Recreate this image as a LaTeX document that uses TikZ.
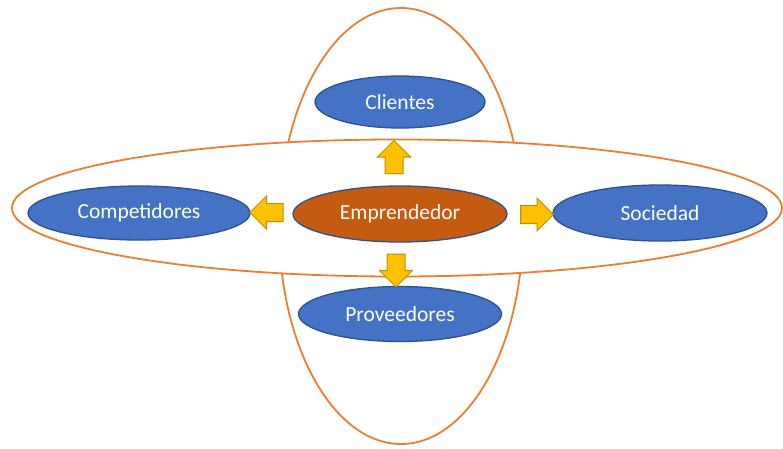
\documentclass[tikz,border=0pt]{standalone}
\usepackage{fontspec}
\setmainfont{Carlito}
\usetikzlibrary{shapes.geometric,shapes.arrows}
\definecolor{ringorange}{HTML}{ED7D31}
\definecolor{nodeblue}{HTML}{4472C4}
\definecolor{nodeedge}{HTML}{2F528F}
\definecolor{coreorange}{HTML}{C55A11}
\definecolor{arrowfill}{HTML}{FFC000}
\definecolor{arrowedge}{HTML}{BF9000}
\tikzset{
  ring/.style={ellipse, draw=ringorange, line width=1.8pt, fill=white, inner sep=0pt},
  actor/.style={ellipse, draw=nodeedge, line width=1.3pt, fill=nodeblue, inner sep=0pt,
    text=white, font=\fontsize{21.5}{25}\selectfont},
  core/.style={actor, fill=coreorange},
  blockarrow/.style={single arrow, draw=arrowedge, line width=1pt, fill=arrowfill,
    inner xsep=0pt, inner ysep=8.5pt, minimum width=32pt, minimum height=33pt,
    single arrow head extend=7.5pt, single arrow tip angle=90}
}
\begin{document}
\begin{tikzpicture}[x=1pt,y=-1pt]
  \useasboundingbox (0,0) rectangle (783,448);
  % outer rings: vertical first, the horizontal one covers it
  \node[ring, minimum width=244pt, minimum height=436pt] (vring) at (401,226) {};
  \node[ring, minimum width=770pt, minimum height=137pt] (hring) at (397,208) {};
  % actors
  \node[core, minimum width=214pt, minimum height=56pt] (emp) at (400,214) {Emprendedor};
  \node[actor, minimum width=170pt, minimum height=52pt] (cli) at (400,102) {Clientes};
  \node[actor, minimum width=222pt, minimum height=54pt] (comp) at (139,213) {Competidores};
  \node[actor, minimum width=214pt, minimum height=56pt] (soc) at (660,213) {Sociedad};
  \node[actor, minimum width=203pt, minimum height=55pt] (prov) at (400,314) {Proveedores};
  % block arrows from the entrepreneur to each actor
  \node[blockarrow, rotate=90] (aup) at (394,161.5) {};
  \node[blockarrow, rotate=180] (aleft) at (271,212.5) {};
  \node[blockarrow] (aright) at (532.5,214.5) {};
  \node[blockarrow, rotate=-90] (adown) at (396,266) {};
\end{tikzpicture}
\end{document}
